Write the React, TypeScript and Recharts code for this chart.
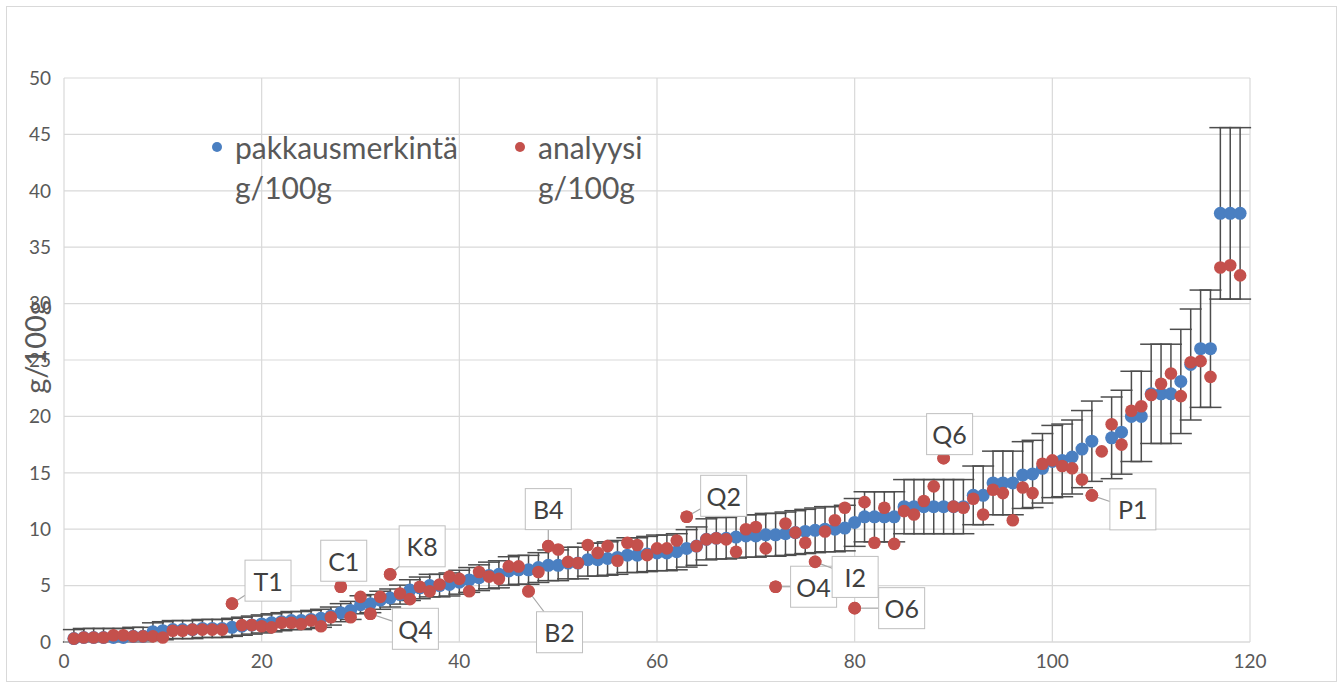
import React from "react";
import {
  ScatterChart,
  Scatter,
  XAxis,
  YAxis,
  CartesianGrid,
  ErrorBar,
  Legend,
} from "recharts";

// näytteet 1..119, pakkausmerkinnän mukaan järjestettynä
const pakkausmerkinta: (number | null)[] = [
  0.3, 0.4, 0.4, 0.4, 0.4, 0.4, 0.5, 0.5, 0.9, 1.0,
  1.1, 1.1, 1.1, 1.2, 1.2, 1.2, 1.3, 1.4, 1.5, 1.6,
  1.7, 1.8, 1.9, 1.9, 2.0, 2.1, 2.3, 2.6, 2.8, 3.3,
  3.4, 3.7, 3.9, 4.2, 4.6, 4.8, 5.0, 5.0, 5.1, 5.3,
  5.5, 5.7, 5.9, 6.0, 6.3, 6.4, 6.4, 6.6, 6.8, 6.8,
  7.0, 7.0, 7.3, 7.3, 7.4, 7.5, 7.7, 7.7, 7.8, 7.9,
  7.9, 8.0, 8.3, 8.5, 9.1, 9.2, 9.2, 9.3, 9.4, 9.4,
  9.5, 9.5, 9.6, 9.7, 9.8, 9.9, 10.0, 10.0, 10.1, 10.6,
  11.1, 11.1, 11.1, 11.1, 12.0, 12.0, 12.0, 12.0, 12.0, 12.0,
  12.0, 13.0, 13.0, 14.1, 14.1, 14.1, 14.8, 14.9, 15.4, 16.0,
  16.1, 16.4, 17.1, 17.8, null, 18.1, 18.6, 20.0, 20.0, 22.0,
  22.0, 22.0, 23.1, 24.6, 26.0, 26.0, 38.0, 38.0, 38.0,
];

const analyysi: number[] = [
  0.3, 0.4, 0.4, 0.4, 0.6, 0.6, 0.5, 0.5, 0.5, 0.4,
  1.0, 1.0, 1.1, 1.1, 1.1, 1.1, 3.4, 1.5, 1.5, 1.4,
  1.3, 1.7, 1.7, 1.6, 1.9, 1.4, 2.2, 4.9, 2.2, 4.0,
  2.5, 4.0, 6.0, 4.3, 3.8, 4.9, 4.5, 5.1, 5.8, 5.6,
  4.5, 6.2, 5.8, 5.6, 6.7, 6.7, 4.5, 6.2, 8.5, 8.2,
  7.1, 7.0, 8.6, 7.9, 8.5, 7.2, 8.8, 8.6, 7.7, 8.3,
  8.3, 9.0, 11.1, 8.5, 9.1, 9.2, 9.1, 8.0, 10.0, 10.2,
  8.3, 4.9, 10.5, 9.7, 8.8, 7.1, 9.8, 10.8, 11.9, 3.0,
  12.4, 8.8, 11.9, 8.7, 11.6, 11.3, 12.5, 13.8, 16.3, 12.0,
  11.9, 12.7, 11.3, 13.5, 13.2, 10.8, 13.7, 13.2, 15.8, 16.1,
  15.6, 15.4, 14.4, 13.0, 16.9, 19.3, 17.5, 20.5, 20.9, 21.9,
  22.9, 23.8, 21.8, 24.8, 24.9, 23.5, 33.2, 33.4, 32.5,
];

const calloutIds = ["T1", "C1", "Q4", "K8", "B2", "B4", "Q2", "O4", "I2", "O6", "Q6", "P1"];
const calloutSample = [17, 28, 31, 33, 47, 49, 63, 72, 76, 80, 89, 104];

const seriesNames = ["pakkausmerkintä g/100g", "analyysi g/100g"];
const xTicks = [0, 20, 40, 60, 80, 100, 120];
const yTicks = [0, 5, 10, 15, 20, 25, 30, 35, 40, 45, 50];

// box centre relative to the point, px
const CALLOUT_OFFSET: Record<string, [number, number]> = {
  T1: [36, -23],
  C1: [3, -26],
  Q4: [45, 15],
  K8: [32, -28],
  B2: [31, 41],
  B4: [0, -37],
  Q2: [37, -21],
  O4: [38, 0],
  I2: [40, 15],
  O6: [47, 0],
  Q6: [6, -24],
  P1: [41, 14],
};

const BLUE = "#4a7fc1";
const RED = "#c4504c";
const TEXT = "#595959";
const GRID = "#d9d9d9";
const FONT = "Lato, 'Open Sans', sans-serif";

// merkinnän toleranssi: alle 4 g ±0,8 g, muuten ±20 %
const tolerance = (v: number) => (v < 4 ? 0.8 : 0.2 * v);

const labelData = pakkausmerkinta
  .map((v, i) =>
    v == null
      ? null
      : { x: i + 1, y: v, err: [Math.min(tolerance(v), v), tolerance(v)] }
  )
  .filter(Boolean);

const analysisData = analyysi.map((v, i) => ({ x: i + 1, y: v }));

const calloutData = calloutSample.map((s, k) => ({
  x: s,
  y: analyysi[s - 1],
  id: calloutIds[k],
}));

const BOX_W = 46;
const BOX_H = 41;

function Callout(props: any) {
  const { cx, cy, payload } = props;
  if (cx == null || cy == null) return null;
  const [dx, dy] = CALLOUT_OFFSET[payload.id] || [30, -20];
  const bx = cx + dx;
  const by = cy + dy;
  const hw = BOX_W / 2;
  const hh = BOX_H / 2;
  const vx = cx - bx;
  const vy = cy - by;
  const t = Math.min(
    vx === 0 ? Infinity : hw / Math.abs(vx),
    vy === 0 ? Infinity : hh / Math.abs(vy)
  );
  const ex = bx + vx * t;
  const ey = by + vy * t;
  return (
    <g>
      <line x1={cx} y1={cy} x2={ex} y2={ey} stroke="#a6a6a6" strokeWidth={1.2} />
      <circle cx={cx} cy={cy} r={6.3} fill={RED} />
      <rect
        x={bx - hw}
        y={by - hh}
        width={BOX_W}
        height={BOX_H}
        fill="#ffffff"
        stroke="#bfbfbf"
        strokeWidth={1}
      />
      <text
        x={bx}
        y={by}
        textAnchor="middle"
        dominantBaseline="central"
        fontSize={25}
        fontFamily={FONT}
        fill="#404040"
      >
        {payload.id}
      </text>
    </g>
  );
}

function LegendBox(props: any) {
  const items = (props.payload || [])
    .filter((p: any) => seriesNames.includes(p.value))
    .sort((a: any, b: any) => seriesNames.indexOf(a.value) - seriesNames.indexOf(b.value));
  return (
    <div style={{ position: "relative", width: 520, height: 82, fontFamily: FONT }}>
      {items.map((item: any, i: number) => {
        const words = String(item.value).split(" ");
        const left = i * 303;
        return (
          <div key={i} style={{ position: "absolute", left, top: 0 }}>
            <span
              style={{
                position: "absolute",
                left: 2,
                top: 15,
                width: 10,
                height: 10,
                borderRadius: 5,
                background: item.color,
              }}
            />
            <div
              style={{
                position: "absolute",
                left: 25,
                top: 0,
                fontSize: 30,
                lineHeight: "40px",
                color: TEXT,
                whiteSpace: "nowrap",
              }}
            >
              <div>{words.slice(0, -1).join(" ")}</div>
              <div>{words[words.length - 1]}</div>
            </div>
          </div>
        );
      })}
    </div>
  );
}

export default function App() {
  return (
    <div style={{ position: "absolute", left: 0, top: 0, width: 1344, height: 684, background: "#fff" }}>
      <div
        style={{
          position: "absolute",
          left: 6,
          top: 6,
          width: 1331,
          height: 676,
          border: "1px solid #d9d9d9",
          boxSizing: "border-box",
        }}
      />
      <div style={{ position: "absolute", left: 0, top: 0 }}>
        <ScatterChart
          width={1344}
          height={684}
          margin={{ top: 78, right: 94, bottom: 12, left: 4 }}
        >
          <CartesianGrid stroke={GRID} strokeWidth={1.2} />
          <XAxis
            type="number"
            dataKey="x"
            domain={[0, 120]}
            ticks={xTicks}
            height={30}
            tickSize={0}
            tickMargin={13}
            tickLine={false}
            axisLine={{ stroke: GRID, strokeWidth: 1.2 }}
            tick={{ fontSize: 19, fill: TEXT, fontFamily: FONT }}
            allowDataOverflow
          />
          <YAxis
            type="number"
            dataKey="y"
            domain={[0, 50]}
            ticks={yTicks}
            width={60}
            tickSize={0}
            tickMargin={13}
            tickLine={false}
            axisLine={false}
            tick={{ fontSize: 19, fill: TEXT, fontFamily: FONT }}
            label={{
              content: (p: any) => {
                const vb = p.viewBox || { x: 4, y: 78, width: 60, height: 564 };
                const x = vb.x + 30;
                const y = vb.y + vb.height / 2 - 13;
                return (
                  <text
                    x={x}
                    y={y}
                    transform={`rotate(-90 ${x} ${y})`}
                    textAnchor="middle"
                    dominantBaseline="central"
                    fontSize={29}
                    fontFamily={FONT}
                    fill={TEXT}
                  >
                    g/100g
                  </text>
                );
              },
            }}
          />
          <Legend
            layout="horizontal"
            verticalAlign="middle"
            align="center"
            content={<LegendBox />}
            wrapperStyle={{ left: 210, top: 127, width: 520, height: 82 }}
          />
          <Scatter
            name={seriesNames[0]}
            data={labelData as any[]}
            fill={BLUE}
            isAnimationActive={false}
            shape={(p: any) => <circle cx={p.cx} cy={p.cy} r={6.5} fill={BLUE} />}
          >
            <ErrorBar
              dataKey="err"
              direction="y"
              width={11}
              stroke="#4d4d4d"
              strokeWidth={1.5}
              isAnimationActive={false}
            />
          </Scatter>
          <Scatter
            name={seriesNames[1]}
            data={analysisData}
            fill={RED}
            isAnimationActive={false}
            shape={(p: any) => <circle cx={p.cx} cy={p.cy} r={6.3} fill={RED} />}
          />
          <Scatter
            name="callouts"
            data={calloutData}
            legendType="none"
            isAnimationActive={false}
            shape={(p: any) => <Callout {...p} />}
          />
        </ScatterChart>
      </div>
    </div>
  );
}
